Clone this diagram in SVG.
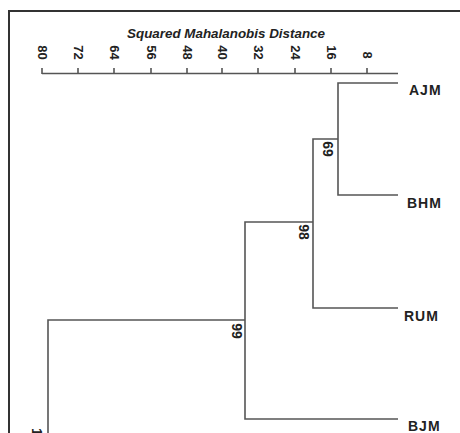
<svg xmlns="http://www.w3.org/2000/svg" width="460" height="433" viewBox="0 0 460 433">
<style>
.ln{stroke:#555;stroke-width:1.6;fill:none}
.fr{stroke:#333;stroke-width:2;fill:none}
.tk{font-family:"Liberation Sans",Arial,sans-serif;font-size:13px;font-weight:bold;fill:#222}
.lf{font-family:"Liberation Sans",Arial,sans-serif;font-size:14px;font-weight:bold;letter-spacing:1px;fill:#222}
.bs{font-family:"Liberation Sans",Arial,sans-serif;font-size:14px;font-weight:bold;fill:#222}
.tt{font-family:"Liberation Sans",Arial,sans-serif;font-size:13.4px;font-weight:bold;font-style:italic;fill:#222}
</style>
<rect width="460" height="433" fill="#fff"/>
<path class="fr" d="M9,433 V11 H460"/>
<text class="tt" x="226" y="38" text-anchor="middle">Squared Mahalanobis Distance</text>
<g id="axis">
<path class="ln" d="M42,73.5 H398"/>
<path class="ln" d="M42,68 V74 M78,68 V74 M114,68 V74 M151,68 V74 M187,68 V74 M222,68 V74 M258,68 V74 M295,68 V74 M331,68 V74 M367,68 V74"/>
<g class="tk" text-anchor="middle">
<text transform="translate(37.5,52.5) rotate(90)">80</text>
<text transform="translate(73.5,52.5) rotate(90)">72</text>
<text transform="translate(109.5,52.5) rotate(90)">64</text>
<text transform="translate(146.5,52.5) rotate(90)">56</text>
<text transform="translate(182.5,52.5) rotate(90)">48</text>
<text transform="translate(217.5,52.5) rotate(90)">40</text>
<text transform="translate(253.5,52.5) rotate(90)">32</text>
<text transform="translate(290.5,52.5) rotate(90)">24</text>
<text transform="translate(326.5,52.5) rotate(90)">16</text>
<text transform="translate(362.5,55) rotate(90)">8</text>
</g>
</g>
<g id="connectors">
<path class="ln" d="M398,83 H338 V195 H398"/>
<path class="ln" d="M338,139 H313 V308 H398"/>
<path class="ln" d="M313,222 H245 V419 H398"/>
<path class="ln" d="M245,320 H48 V433"/>
</g>
<g id="AJM"><text class="lf" x="409" y="95">AJM</text></g>
<g id="BHM"><text class="lf" x="407" y="208">BHM</text></g>
<g id="RUM"><text class="lf" x="404" y="321">RUM</text></g>
<g id="BJM"><text class="lf" x="408" y="431">BJM</text></g>
<g id="n69"><text class="bs" transform="translate(322.5,149) rotate(90)" text-anchor="middle">69</text></g>
<g id="n98"><text class="bs" transform="translate(298.5,232) rotate(90)" text-anchor="middle">98</text></g>
<g id="n99"><text class="bs" transform="translate(231.5,331) rotate(90)" text-anchor="middle">99</text></g>
<g id="n100"><text class="bs" transform="translate(32,428) rotate(90)">100</text></g>
</svg>
